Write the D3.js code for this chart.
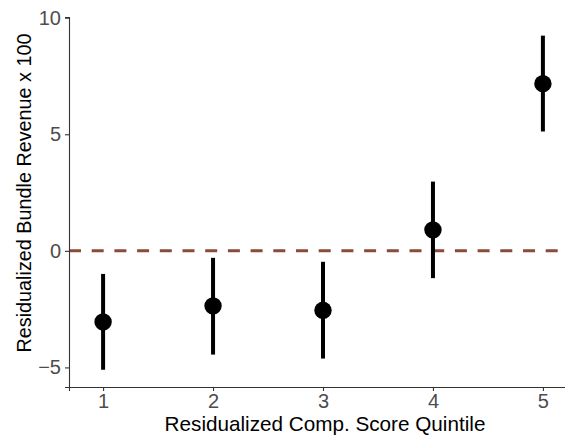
<!DOCTYPE html>
<html>
<head>
<meta charset="utf-8">
<script src="https://cdn.jsdelivr.net/npm/d3@7"></script>
<style>
  body { margin: 0; background: #fff; }
  text { font-family: "Liberation Sans", Arial, sans-serif; }
</style>
</head>
<body>
<script>
// quintiles and estimates
const quintiles = [1, 2, 3, 4, 5];
const estimates = [-3.05, -2.36, -2.55, 0.9, 7.17];
const lower = [-5.1, -4.45, -4.62, -1.17, 5.12];
const upper = [-0.99, -0.3, -0.47, 2.97, 9.23];
const yTicks = [-5, 0, 5, 10];

const w = 565;
const h = 437;

const svg = d3.select("body")
  .append("svg")
  .attr("width", w)
  .attr("height", h);

const x = d3.scaleLinear().domain([0.69, 5.21]).range([69, 566]);
const y = d3.scaleLinear().domain([-5.84, 10.03]).range([387, 17]);

// reference line at zero
svg.append("line")
  .attr("x1", x(0.69)).attr("x2", x(5.21))
  .attr("y1", y(0)).attr("y2", y(0))
  .attr("stroke", "#8c4a38")
  .attr("stroke-width", 3)
  .attr("stroke-dasharray", "12,10.7");

const data = quintiles.map((q, i) => ({ q, est: estimates[i], lo: lower[i], hi: upper[i] }));

svg.selectAll("line.err")
  .data(data)
  .enter()
  .append("line")
  .attr("class", "err")
  .attr("x1", d => x(d.q)).attr("x2", d => x(d.q))
  .attr("y1", d => y(d.lo)).attr("y2", d => y(d.hi))
  .attr("stroke", "black")
  .attr("stroke-width", 4);

svg.selectAll("circle")
  .data(data)
  .enter()
  .append("circle")
  .attr("cx", d => x(d.q))
  .attr("cy", d => y(d.est))
  .attr("r", 8.7)
  .attr("fill", "black");

// axes
const xAxis = svg.append("g")
  .attr("transform", `translate(0,${y(-5.84)})`)
  .call(d3.axisBottom(x).tickValues(quintiles).tickFormat(d3.format("d")).tickSizeOuter(0).tickSize(4).tickPadding(3));

const yAxis = svg.append("g")
  .attr("transform", `translate(${x(0.69)},0)`)
  .call(d3.axisLeft(y).tickValues(yTicks).tickFormat(d => d < 0 ? "\u2212" + Math.abs(d) : d).tickSizeOuter(0).tickSize(4).tickPadding(4));

[xAxis, yAxis].forEach(g => {
  g.attr("font-size", 20);
  g.select(".domain").attr("stroke", "#333").attr("stroke-width", 1.1);
  g.selectAll(".tick line").attr("stroke", "#333").attr("stroke-width", 1.1);
  g.selectAll(".tick text")
    .attr("fill", "#4d4d4d")
    .attr("font-size", 20)
    .style("font-family", "'Liberation Sans', Arial, sans-serif");
});

svg.append("text")
  .attr("x", 325)
  .attr("y", 431)
  .attr("text-anchor", "middle")
  .attr("font-size", 20.7)
  .attr("fill", "black")
  .text("Residualized Comp. Score Quintile");

svg.append("text")
  .attr("transform", "translate(31,193) rotate(-90)")
  .attr("text-anchor", "middle")
  .attr("font-size", 19.8)
  .attr("fill", "black")
  .text("Residualized Bundle Revenue x 100");
</script>
</body>
</html>
